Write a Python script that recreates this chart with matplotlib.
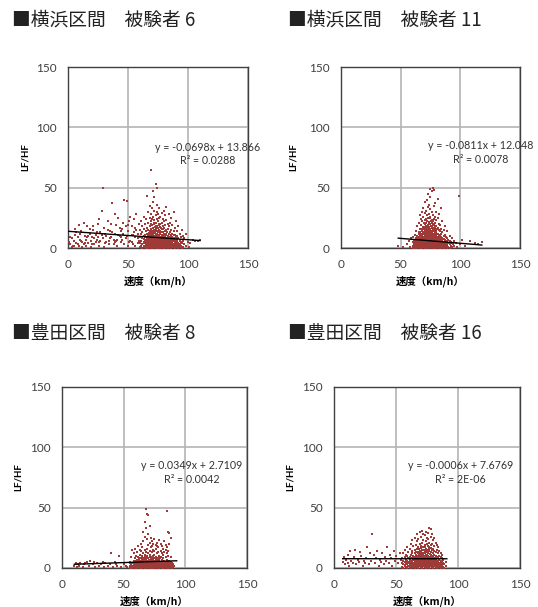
import numpy as np
import matplotlib
matplotlib.use("Agg")
import matplotlib.pyplot as plt

plt.rcParams['font.family'] = ['Lato', 'Noto Sans CJK JP', 'DejaVu Sans']

# ---- data ----
titles = ["■横浜区間　被験者 6", "■横浜区間　被験者 11",
          "■豊田区間　被験者 8", "■豊田区間　被験者 16"]

# regression line: slope, intercept, x range
fits = [(-0.0698, 13.866, 0, 110),
        (-0.0811, 12.048, 48, 118),
        (0.0349, 2.7109, 10, 93),
        (-0.0006, 7.6769, 7, 91)]
equations = ["y = -0.0698x + 13.866\nR² = 0.0288",
             "y = -0.0811x + 12.048\nR² = 0.0078",
             "y = 0.0349x + 2.7109\nR² = 0.0042",
             "y = -0.0006x + 7.6769\nR² = 2E-06"]
eq_pos = [(116, 78), (117, 79), (105, 79), (102, 79)]

# scattered points (speed, LF/HF)
yoko6_sparse = [(1, 5), (2, 3), (3, 8), (4, 2), (5, 6), (6, 11), (7, 4), (8, 9), (9, 2), (10, 7),
                (11, 14), (12, 5), (13, 3), (14, 10), (15, 7), (16, 18), (17, 4), (18, 12), (19, 6),
                (20, 9), (21, 15), (22, 3), (23, 11), (24, 7), (25, 20), (26, 5), (27, 13), (28, 31),
                (29, 8), (30, 17), (31, 4), (32, 10), (33, 22), (34, 6), (35, 14), (36, 9), (37, 37),
                (38, 3), (39, 12), (40, 19), (41, 7), (42, 25), (43, 10), (44, 5), (45, 16), (46, 12),
                (47, 40), (48, 8), (49, 39), (50, 14), (51, 22), (52, 6), (53, 18), (54, 11), (55, 24),
                (56, 9), (57, 15), (58, 4), (59, 20), (3, 1), (8, 3), (12, 1), (15, 2), (19, 1),
                (22, 8), (26, 2), (30, 1), (34, 3), (38, 7), (41, 2), (44, 9), (47, 3), (50, 2),
                (53, 5), (56, 2), (58, 8), (29, 50), (9, 19), (13, 21), (18, 16), (24, 13), (33, 15),
                (36, 20), (43, 17), (46, 21), (52, 26), (57, 28), (6, 16), (10, 12), (16, 9), (27, 6),
                (31, 12), (39, 5), (48, 18), (54, 3), (100, 5), (101, 1), (102, 4), (104, 7),
                (106, 6), (108, 6), (110, 7), (2, 9), (5, 2), (7, 13), (11, 6), (14, 4), (17, 10),
                (20, 3), (23, 5), (25, 9), (28, 11), (32, 5), (35, 8), (37, 13), (40, 6), (42, 11),
                (45, 7), (49, 10), (51, 5), (55, 13), (59, 6), (21, 18), (26, 24), (39, 28), (44, 14),
                (50, 19), (53, 11), (56, 17), (58, 12)]
yoko6_core = {60: [1, 4, 9, 15], 61: [2, 6, 12, 22], 62: [0, 3, 8, 13, 18], 63: [1, 5, 10, 16, 26],
              64: [2, 4, 7, 11, 20], 65: [0, 3, 6, 9, 14, 24], 66: [1, 2, 5, 8, 12, 17, 43],
              67: [0, 3, 4, 7, 10, 15, 21, 30], 68: [1, 2, 5, 6, 9, 13, 18, 25, 35],
              69: [0, 3, 4, 7, 8, 11, 16, 22, 28, 65], 70: [1, 2, 5, 6, 9, 10, 14, 19, 24, 33],
              71: [0, 3, 4, 7, 8, 12, 13, 17, 26, 38, 47], 72: [1, 2, 5, 6, 9, 10, 15, 20, 23, 31, 42],
              73: [0, 3, 4, 7, 8, 11, 12, 16, 21, 27, 53], 74: [1, 2, 5, 6, 9, 10, 14, 18, 24, 30, 36, 50],
              75: [0, 3, 4, 7, 8, 11, 13, 17, 22, 28], 76: [1, 2, 5, 6, 9, 10, 15, 19, 25, 33],
              77: [0, 3, 4, 7, 8, 12, 14, 20, 26], 78: [1, 2, 5, 6, 9, 11, 16, 21, 29],
              79: [0, 3, 4, 7, 8, 13, 18, 24], 80: [1, 2, 5, 6, 10, 12, 17, 22, 31],
              81: [0, 3, 4, 7, 9, 14, 19, 27], 82: [1, 2, 5, 8, 11, 15, 23, 34],
              83: [0, 3, 6, 7, 10, 16, 20], 84: [1, 4, 5, 9, 12, 18, 28], 85: [2, 3, 6, 8, 13, 21],
              86: [0, 4, 7, 10, 15, 25], 87: [1, 3, 5, 9, 12, 19], 88: [2, 6, 8, 14, 30],
              89: [0, 4, 7, 11, 17], 90: [1, 3, 5, 9, 22], 91: [2, 6, 10, 14], 92: [0, 4, 8, 18],
              93: [1, 3, 7, 12], 94: [2, 5, 9], 95: [0, 4, 15], 96: [1, 6, 10], 97: [3, 8], 98: [2, 12],
              63.5: [1.5, 4.5, 7.5], 64.5: [1.5, 5.5, 9.5], 65.5: [2.5, 6.5, 11.5],
              66.5: [1.5, 4.5, 7.5, 10.5], 67.5: [2.5, 5.5, 8.5, 12.5], 68.5: [1.5, 4.5, 7.5, 10.5, 14.5],
              69.5: [2.5, 5.5, 9.5, 12.5, 19.5], 70.5: [1.5, 3.5, 7.5, 11.5, 16.5],
              71.5: [2.5, 5.5, 9.5, 14.5, 20.5], 72.5: [1.5, 3.5, 7.5, 12.5, 17.5],
              73.5: [2.5, 5.5, 9.5, 14.5, 18.5], 74.5: [1.5, 3.5, 7.5, 11.5, 16.5],
              75.5: [2.5, 5.5, 9.5, 14.5, 19.5], 76.5: [1.5, 3.5, 7.5, 12.5, 17.5],
              77.5: [2.5, 5.5, 9.5, 16.5], 78.5: [1.5, 3.5, 7.5, 13.5], 79.5: [2.5, 5.5, 10.5, 15.5],
              80.5: [1.5, 3.5, 7.5, 14.5], 81.5: [2.5, 5.5, 11.5], 82.5: [1.5, 3.5, 6.5, 13.5],
              83.5: [2.5, 4.5, 8.5], 84.5: [1.5, 3.5, 7.5], 85.5: [0.5, 4.5, 10.5], 86.5: [2.5, 5.5],
              87.5: [0.5, 6.5], 88.5: [3.5, 10.5], 89.5: [1.5, 5.5], 90.5: [2.5, 7.5],
              91.5: [0.5, 4.5], 92.5: [2.5], 93.5: [5.5]}

yoko11_sparse = [(48, 2), (52, 1), (55, 3), (57, 6), (58, 1), (59, 8), (108, 6), (112, 4), (115, 3),
                 (118, 5), (99, 43), (104, 2), (101, 7), (96, 4), (97, 1), (100, 3)]
yoko11_core = {60: [0, 2, 5, 9], 61: [1, 3, 7], 62: [0, 2, 4, 6, 11], 63: [1, 3, 5, 8, 14],
               64: [0, 2, 4, 7, 10, 18], 65: [1, 3, 5, 6, 9, 13, 21], 66: [0, 2, 4, 7, 8, 11, 16, 27],
               67: [1, 3, 5, 6, 10, 12, 19, 24], 68: [0, 2, 4, 7, 8, 11, 14, 22, 30],
               69: [1, 3, 5, 6, 9, 13, 17, 26, 33], 70: [0, 2, 4, 7, 8, 10, 12, 15, 20, 29, 38],
               71: [1, 3, 5, 6, 9, 11, 14, 18, 24, 31], 72: [0, 2, 4, 7, 8, 10, 13, 16, 22, 27, 40],
               73: [1, 3, 5, 6, 9, 12, 15, 19, 25, 34, 45], 74: [0, 2, 4, 7, 8, 11, 14, 17, 21, 28, 36],
               75: [1, 3, 5, 6, 10, 12, 16, 20, 26, 32, 42, 49], 76: [0, 2, 4, 7, 9, 11, 13, 18, 23, 30, 47],
               77: [1, 3, 5, 6, 8, 10, 14, 17, 22, 27, 50], 78: [0, 2, 4, 7, 9, 12, 15, 19, 24, 35, 48],
               79: [1, 3, 5, 6, 8, 11, 16, 21, 26, 37], 80: [0, 2, 4, 7, 10, 13, 18, 23, 30],
               81: [1, 3, 5, 6, 9, 12, 17, 25, 41], 82: [0, 2, 4, 8, 11, 15, 20, 28],
               83: [1, 3, 6, 7, 10, 14, 19], 84: [0, 2, 5, 9, 12, 16, 33], 85: [1, 4, 6, 8, 13, 22],
               86: [0, 3, 5, 10, 15], 87: [2, 4, 7, 11, 18], 88: [1, 3, 6, 9], 89: [0, 2, 5, 8, 14],
               90: [1, 4, 7], 91: [0, 3, 6, 10], 92: [2, 5], 93: [1, 4, 8], 94: [3], 95: [2, 6],
               63.5: [1.5, 4.5], 64.5: [2.5, 5.5, 8.5], 65.5: [1.5, 4.5, 7.5, 11.5],
               66.5: [2.5, 5.5, 9.5, 13.5], 67.5: [1.5, 4.5, 7.5, 11.5, 15.5],
               68.5: [2.5, 5.5, 9.5, 12.5, 17.5], 69.5: [1.5, 4.5, 7.5, 11.5, 15.5, 20.5],
               70.5: [2.5, 5.5, 9.5, 13.5, 17.5, 23.5], 71.5: [1.5, 4.5, 7.5, 11.5, 15.5, 20.5],
               72.5: [2.5, 5.5, 9.5, 12.5, 17.5, 22.5], 73.5: [1.5, 4.5, 7.5, 10.5, 13.5, 17.5, 21.5],
               74.5: [2.5, 5.5, 9.5, 12.5, 15.5, 19.5, 24.5], 75.5: [1.5, 4.5, 7.5, 11.5, 14.5, 18.5, 22.5],
               76.5: [2.5, 5.5, 9.5, 12.5, 16.5, 20.5], 77.5: [1.5, 4.5, 7.5, 11.5, 15.5, 19.5],
               78.5: [2.5, 5.5, 9.5, 13.5, 17.5], 79.5: [1.5, 4.5, 7.5, 11.5, 14.5],
               80.5: [2.5, 5.5, 9.5, 15.5], 81.5: [1.5, 4.5, 7.5, 11.5], 82.5: [2.5, 5.5, 9.5],
               83.5: [1.5, 4.5, 8.5], 84.5: [2.5, 6.5], 85.5: [1.5, 4.5], 86.5: [2.5, 7.5],
               87.5: [1.5, 4.5], 88.5: [2.5]}

toyo8_sparse = [(10, 2), (11, 4), (12, 1), (13, 3), (14, 2), (15, 4), (17, 1), (18, 3), (20, 5),
                (22, 2), (23, 6), (25, 3), (27, 1), (28, 4), (30, 2), (32, 3), (34, 1), (35, 4),
                (37, 2), (39, 3), (40, 12), (41, 1), (43, 5), (45, 2), (46, 10), (48, 1), (50, 3),
                (52, 2), (53, 1), (55, 4), (19, 4), (26, 5), (33, 5), (44, 3)]
toyo8_core = {55: [0, 2, 5], 56: [1, 3, 9], 57: [0, 2, 4, 15], 58: [1, 3, 6, 12], 59: [0, 2, 4, 8, 16],
              60: [1, 3, 5, 10], 61: [0, 2, 4, 7, 13], 62: [1, 3, 5, 9, 18], 63: [0, 2, 4, 6, 11, 15],
              64: [1, 3, 5, 8, 14, 20], 65: [0, 2, 4, 7, 10, 17], 66: [1, 3, 5, 6, 12, 22, 30],
              67: [0, 2, 4, 8, 11, 15, 26, 38], 68: [1, 3, 5, 7, 9, 13, 33, 49],
              69: [0, 2, 4, 6, 10, 16, 24, 45], 70: [1, 3, 5, 8, 12, 19, 28, 44],
              71: [0, 2, 4, 7, 11, 14, 21, 35], 72: [1, 3, 5, 6, 9, 17, 25], 73: [0, 2, 4, 8, 13, 18, 22],
              74: [1, 3, 5, 7, 10, 15, 20], 75: [0, 2, 4, 6, 11, 14, 24], 76: [1, 3, 5, 9, 16, 19],
              77: [0, 2, 4, 7, 12, 18, 21], 78: [1, 3, 5, 8, 13, 17], 79: [0, 2, 4, 6, 10, 23],
              80: [1, 3, 5, 9, 14, 20], 81: [0, 2, 4, 7, 12, 18], 82: [1, 3, 5, 8, 11, 16],
              83: [0, 2, 4, 6, 13, 22], 84: [1, 3, 5, 9, 15, 19], 85: [0, 2, 4, 7, 12, 17, 47],
              86: [1, 3, 5, 10, 14, 30], 87: [0, 2, 4, 6, 20, 29], 88: [1, 3, 5, 9, 25],
              89: [0, 2, 4], 90: [1, 3], 91: [2],
              57.5: [1.5], 58.5: [2.5, 4.5], 59.5: [1.5, 5.5], 60.5: [2.5, 6.5], 61.5: [1.5, 3.5, 5.5],
              62.5: [2.5, 4.5, 7.5], 63.5: [1.5, 3.5, 8.5], 64.5: [2.5, 4.5, 6.5],
              65.5: [1.5, 3.5, 5.5, 8.5], 66.5: [2.5, 4.5, 7.5], 67.5: [1.5, 3.5, 6.5, 9.5],
              68.5: [2.5, 4.5, 7.5], 69.5: [1.5, 3.5, 5.5, 8.5], 70.5: [2.5, 4.5, 6.5],
              71.5: [1.5, 3.5, 5.5, 9.5], 72.5: [2.5, 4.5, 7.5], 73.5: [1.5, 3.5, 6.5],
              74.5: [2.5, 4.5, 8.5], 75.5: [1.5, 3.5, 5.5], 76.5: [2.5, 4.5, 7.5], 77.5: [1.5, 3.5, 5.5],
              78.5: [2.5, 4.5, 6.5], 79.5: [1.5, 3.5, 8.5], 80.5: [2.5, 4.5], 81.5: [1.5, 3.5, 5.5],
              82.5: [2.5, 4.5], 83.5: [1.5, 3.5], 84.5: [2.5, 4.5], 85.5: [1.5, 3.5], 86.5: [2.5],
              87.5: [1.5]}

toyo16_sparse = [(7, 5), (8, 9), (9, 3), (10, 7), (11, 11), (12, 2), (13, 14), (14, 6), (15, 4),
                 (16, 9), (17, 15), (18, 3), (19, 7), (20, 5), (22, 10), (23, 2), (25, 4), (26, 8),
                 (27, 17), (28, 3), (30, 6), (31, 28), (32, 11), (33, 4), (34, 8), (35, 14), (36, 2),
                 (37, 7), (38, 5), (39, 12), (40, 3), (41, 9), (42, 6), (43, 17), (44, 4), (45, 11),
                 (46, 8), (47, 2), (48, 14), (49, 6), (50, 10), (52, 4), (53, 12), (54, 7), (21, 13),
                 (29, 12), (24, 6), (11, 4)]
toyo16_core = {55: [1, 4, 8], 56: [0, 3, 6, 12], 57: [2, 5, 9, 15], 58: [1, 4, 7, 11],
               59: [0, 3, 6, 10, 17], 60: [2, 5, 8, 13], 61: [1, 4, 7, 9, 16], 62: [0, 3, 6, 11, 20],
               63: [2, 5, 8, 12, 14, 23], 64: [1, 4, 7, 10, 18], 65: [0, 3, 6, 9, 15, 25],
               66: [2, 5, 8, 11, 13, 19], 67: [1, 4, 7, 10, 16, 22, 28], 68: [0, 3, 6, 9, 12, 17, 24],
               69: [2, 5, 8, 11, 14, 20, 30], 70: [1, 4, 7, 10, 13, 18, 26], 71: [0, 3, 6, 9, 15, 21, 31],
               72: [2, 5, 8, 11, 12, 17, 23, 28], 73: [1, 4, 7, 10, 14, 19, 27],
               74: [0, 3, 6, 9, 13, 16, 22, 30], 75: [2, 5, 8, 11, 15, 20, 25],
               76: [1, 4, 7, 10, 12, 18, 24, 29], 77: [0, 3, 6, 9, 14, 17, 21, 33],
               78: [2, 5, 8, 11, 13, 19, 26, 32], 79: [1, 4, 7, 10, 15, 20, 28],
               80: [0, 3, 6, 9, 12, 16, 23], 81: [2, 5, 8, 11, 14, 18, 25], 82: [1, 4, 7, 10, 13, 21],
               83: [0, 3, 6, 9, 15, 19], 84: [2, 5, 8, 12, 17], 85: [1, 4, 7, 10, 14],
               86: [0, 3, 6, 9, 12], 87: [2, 5, 8, 11], 88: [1, 4, 7], 89: [0, 3], 90: [2, 5],
               57.5: [2.5], 59.5: [1.5, 4.5], 61.5: [2.5, 5.5], 62.5: [1.5, 4.5, 8.5], 63.5: [2.5, 6.5],
               64.5: [1.5, 4.5, 9.5], 65.5: [2.5, 5.5, 7.5, 12.5], 66.5: [1.5, 3.5, 6.5, 10.5],
               67.5: [2.5, 5.5, 8.5, 13.5], 68.5: [1.5, 4.5, 7.5, 10.5, 15.5],
               69.5: [2.5, 3.5, 6.5, 9.5, 12.5], 70.5: [1.5, 5.5, 8.5, 11.5, 16.5],
               71.5: [2.5, 4.5, 7.5, 12.5], 72.5: [1.5, 3.5, 6.5, 9.5, 14.5],
               73.5: [2.5, 5.5, 8.5, 12.5, 17.5], 74.5: [1.5, 4.5, 7.5, 10.5, 14.5],
               75.5: [2.5, 3.5, 6.5, 9.5, 13.5], 76.5: [1.5, 5.5, 8.5, 15.5], 77.5: [2.5, 4.5, 7.5, 11.5],
               78.5: [1.5, 3.5, 6.5, 9.5, 16.5], 79.5: [2.5, 5.5, 8.5, 12.5], 80.5: [1.5, 4.5, 7.5, 10.5],
               81.5: [2.5, 3.5, 6.5], 82.5: [1.5, 5.5, 8.5], 83.5: [2.5, 4.5], 84.5: [1.5, 6.5],
               85.5: [2.5, 3.5], 86.5: [1.5, 4.5], 87.5: [2.5]}

datasets = [(yoko6_sparse, yoko6_core), (yoko11_sparse, yoko11_core),
            (toyo8_sparse, toyo8_core), (toyo16_sparse, toyo16_core)]

ticks = [0, 50, 100, 150]

# axes boxes in figure fractions
boxes = [(0.1264, 0.5914, 0.3346, 0.2982),
         (0.6338, 0.5914, 0.3327, 0.2982),
         (0.1152, 0.0643, 0.3439, 0.2982),
         (0.6208, 0.0643, 0.3457, 0.2982)]
ylabel_x = [-0.21, -0.24, -0.21, -0.21]
title_pos = [(12, 20), (288, 20), (12, 333), (288, 333)]


def to_xy(sparse, core):
    xs = [p[0] for p in sparse]
    ys = [p[1] for p in sparse]
    for k, vals in core.items():
        xs += [k] * len(vals)
        ys += vals
    return np.array(xs), np.array(ys)


fig = plt.figure(figsize=(5.38, 6.07), dpi=100)

for i in range(4):
    ax = fig.add_axes(boxes[i])
    xs, ys = to_xy(*datasets[i])
    ax.scatter(xs, ys, s=4, marker='s', color='#9e3b39', linewidths=0, zorder=3)

    slope, icpt, x0, x1 = fits[i]
    lx = np.array([x0, x1])
    ax.plot(lx, slope * lx + icpt, color='black', lw=1, zorder=4)

    ax.set_xlim(0, 150)
    ax.set_ylim(0, 150)
    ax.set_xticks(ticks)
    ax.set_yticks(ticks)
    ax.tick_params(length=0, labelsize=8.5, labelcolor='#404040', pad=8)
    ax.grid(True, color='#b4b4b4', lw=1.2, zorder=0)
    for sp in ax.spines.values():
        sp.set_color('#404040')
        sp.set_linewidth(1)

    ax.set_ylabel("LF/HF", fontsize=7, fontweight='bold')
    ax.yaxis.set_label_coords(ylabel_x[i], 0.5)
    ax.set_xlabel("速度（km/h）", fontsize=7.5, fontweight='bold', labelpad=4,
                  family=['Noto Sans CJK JP', 'DejaVu Sans'])

    ex, ey = eq_pos[i]
    ax.text(ex, ey, equations[i], ha='center', va='center', multialignment='center',
            fontsize=7.7, color='#333333', linespacing=1.3, clip_on=False, zorder=5)

    tx, ty = title_pos[i]
    fig.text(tx / 538, 1 - ty / 607, titles[i], ha='left', va='center', fontsize=13.5,
             family=['Noto Sans CJK JP', 'DejaVu Sans'], color='#222222')

fig.savefig("out.png", dpi=100)
